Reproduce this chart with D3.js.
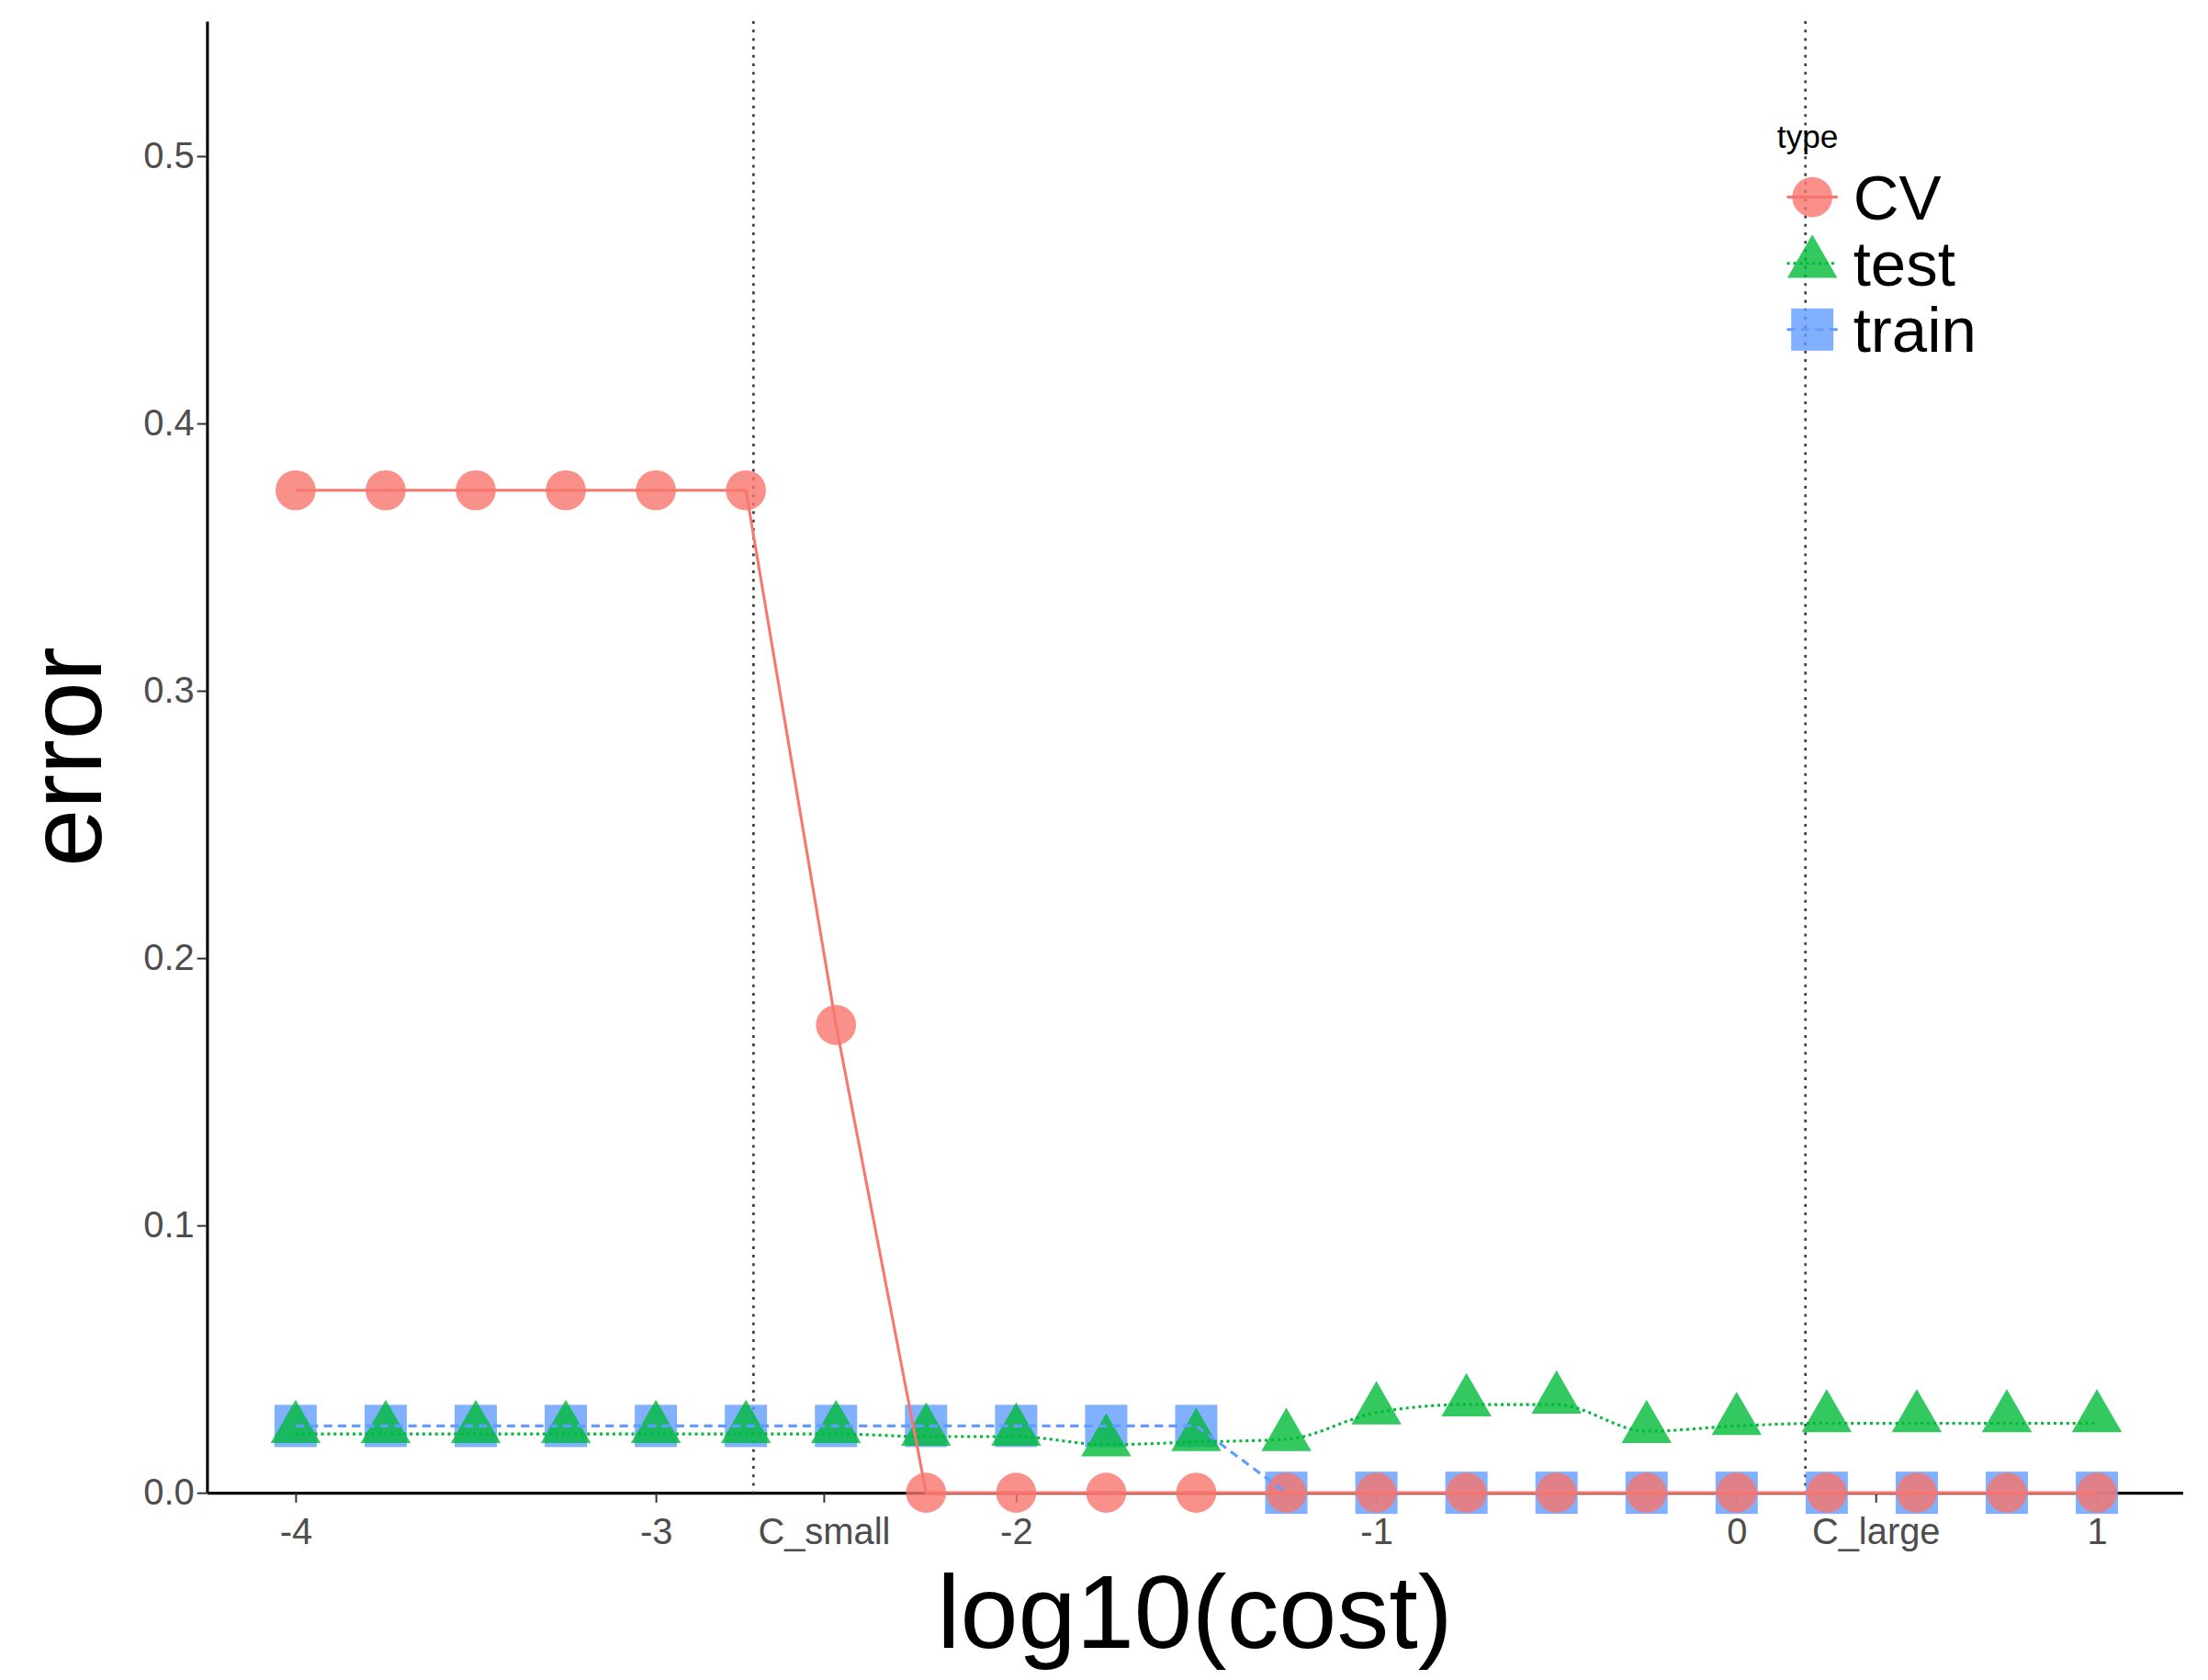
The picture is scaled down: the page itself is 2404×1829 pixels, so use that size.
<!DOCTYPE html><html><head><meta charset="utf-8"><script src="https://cdn.jsdelivr.net/npm/d3@7"></script>
<style>body{margin:0;background:#fff}</style></head><body><svg id="c" width="2404" height="1829"></svg><script>
const xs=[-4,-3.75,-3.5,-3.25,-3,-2.75,-2.5,-2.25,-2,-1.75,-1.5,-1.25,-1,-0.75,-0.5,-0.25,0,0.25,0.5,0.75,1];
const cv=[0.375,0.375,0.375,0.375,0.375,0.375,0.175,0,0,0,0,0,0,0,0,0,0,0,0,0,0];
const test=[0.022,0.022,0.022,0.022,0.022,0.022,0.022,0.021,0.021,0.018,0.019,0.02,0.03,0.033,0.033,0.023,0.025,0.026,0.026,0.026,0.026];
const testPts=[0.024,0.024,0.024,0.024,0.024,0.024,0.024,0.023,0.023,0.019,0.021,0.021,0.031,0.034,0.035,0.024,0.027,0.028,0.028,0.028,0.028];
const train=[0.025,0.025,0.025,0.025,0.025,0.025,0.025,0.025,0.025,0.025,0.025,0,0,0,0,0,0,0,0,0,0];
const xTicks=[-4,-3,-2.534,-2,-1,0,0.386,1];
const xTickLabels=["-4","-3","C_small","-2","-1","0","C_large","1"];
const yTicks=[0,0.1,0.2,0.3,0.4,0.5];
const vlines=[-2.729,0.191];
const s=2404/1568;
const svg=d3.select("#c");
const L=147*s,R=1550*s,T=15*s,B=1060*s;
const x=d3.scaleLinear().domain([-4.246,1.238]).range([L,R]);
const y=d3.scaleLinear().domain([0,0.5505]).range([B,T]);
const fs=26*s;
const gx=svg.append("g").attr("transform",`translate(0,${B})`).call(d3.axisBottom(x).tickValues(xTicks).tickFormat((d,i)=>xTickLabels[i]).tickSize(7*s).tickSizeOuter(0));
gx.select(".domain").attr("stroke","#000").attr("stroke-width",2*s);
gx.selectAll(".tick line").attr("stroke","#333").attr("stroke-width",1.3*s);
gx.selectAll("text").attr("font-family","Liberation Sans, Arial").attr("font-size",fs).attr("fill","#4d4d4d").attr("dy","1.05em");
const gy=svg.append("g").attr("transform",`translate(${L},0)`).call(d3.axisLeft(y).tickValues(yTicks).tickFormat(d3.format(".1f")).tickSize(7*s).tickSizeOuter(0));
gy.select(".domain").attr("stroke","#000").attr("stroke-width",2*s);
gy.selectAll(".tick line").attr("stroke","#333").attr("stroke-width",1.3*s);
gy.selectAll("text").attr("font-family","Liberation Sans, Arial").attr("font-size",fs).attr("fill","#4d4d4d");
vlines.forEach(v=>svg.append("line").attr("x1",x(v)).attr("x2",x(v)).attr("y1",T).attr("y2",B).attr("stroke","#444").attr("stroke-width",1.8*s).attr("stroke-dasharray",`${2*s},${4*s}`));
const ln=d3.line().x((d,i)=>x(xs[i])).y(d=>y(d));
const red="#F8766D",green="#00BA38",blue="#619CFF";
const op=0.8,r=15*s;
svg.append("g").selectAll("rect").data(train).join("rect").attr("x",(d,i)=>x(xs[i])-r).attr("y",d=>y(d)-r).attr("width",2*r).attr("height",2*r).attr("fill",blue).attr("opacity",op);
const tri=d3.symbol().type(d3.symbolTriangle).size(Math.pow(2*r*1.05,2)*0.55);
svg.append("g").selectAll("path").data(testPts).join("path").attr("d",tri).attr("transform",(d,i)=>`translate(${x(xs[i])},${y(d)})`).attr("fill",green).attr("opacity",op);
svg.append("g").selectAll("circle").data(cv).join("circle").attr("cx",(d,i)=>x(xs[i])).attr("cy",d=>y(d)).attr("r",r*0.95).attr("fill",red).attr("opacity",op);
svg.append("path").attr("d",ln(cv)).attr("fill","none").attr("stroke",red).attr("stroke-width",2*s);
svg.append("path").attr("d",d3.line().x((d,i)=>x(xs[i])).y(d=>y(d)).curve(d3.curveMonotoneX)(test)).attr("fill","none").attr("stroke",green).attr("stroke-width",2*s).attr("stroke-dasharray",`${2*s},${2.5*s}`);
svg.append("path").attr("d",ln(train.slice(0,12))).attr("fill","none").attr("stroke",blue).attr("stroke-width",2*s).attr("stroke-dasharray",`${6*s},${4*s}`);
svg.append("text").attr("x",(L+R)/2).attr("y",1170*s).attr("text-anchor","middle").attr("font-family","Liberation Sans, Arial").attr("font-size",74*s).text("log10(cost)");
svg.append("text").attr("transform",`translate(${72*s},${(T+B)/2}) rotate(-90)`).attr("text-anchor","middle").attr("font-family","Liberation Sans, Arial").attr("font-size",74*s).text("error");
const lg=svg.append("g");
lg.append("text").attr("x",1262*s).attr("y",105*s).attr("font-family","Liberation Sans, Arial").attr("font-size",23*s).text("type");
const items=[["CV",red,"circle",null],["test",green,"tri",`${2*s},${2.5*s}`],["train",blue,"sq",`${6*s},${4*s}`]];
items.forEach((it,i)=>{const cy=(140+47*i)*s,cx=1287*s;
 lg.append("line").attr("x1",cx-18*s).attr("x2",cx+18*s).attr("y1",cy).attr("y2",cy).attr("stroke",it[1]).attr("stroke-width",2*s).attr("stroke-dasharray",it[3]);
 if(it[2]=="circle")lg.append("circle").attr("cx",cx).attr("cy",cy).attr("r",r*0.95).attr("fill",it[1]).attr("opacity",op);
 else if(it[2]=="tri")lg.append("path").attr("d",tri).attr("transform",`translate(${cx},${cy})`).attr("fill",it[1]).attr("opacity",op);
 else lg.append("rect").attr("x",cx-r).attr("y",cy-r).attr("width",2*r).attr("height",2*r).attr("fill",it[1]).attr("opacity",op);
 lg.append("text").attr("x",1316*s).attr("y",cy+16*s).attr("font-family","Liberation Sans, Arial").attr("font-size",45*s).text(it[0]);
});
</script></body></html>
